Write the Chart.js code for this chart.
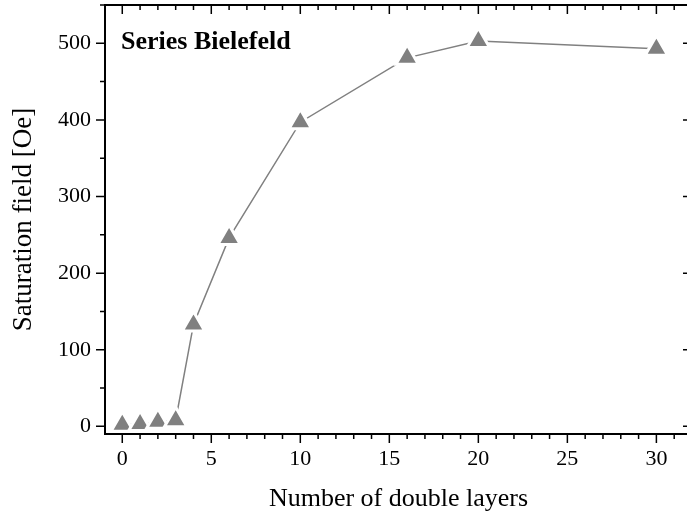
<!DOCTYPE html>
<html>
<head>
<meta charset="utf-8">
<script src="https://cdn.jsdelivr.net/npm/chart.js@4/dist/chart.umd.min.js"></script>
<style>
  html, body { margin: 0; padding: 0; overflow: hidden; background: #fff; }
  #wrap { position: absolute; left: 0; top: 0; width: 700px; height: 516px; }
</style>
</head>
<body>
<div id="wrap"><canvas id="c" width="700" height="516"></canvas></div>
<script>
// Saturation field versus number of double layers
const layers = [0, 1, 2, 3, 4, 6, 10, 16, 20, 30];
const saturationField = [2, 3, 6, 8, 133, 246, 397, 481, 503, 493];

// Labelled tick values on each axis
const xTickValues = [0, 5, 10, 15, 20, 25, 30];
const yTickValues = [0, 100, 200, 300, 400, 500];

const seriesLabel = 'Series Bielefeld';
const xTitle = 'Number of double layers';
const yTitle = 'Saturation field [Oe]';

const serif = "'Liberation Serif', 'Times New Roman', serif";

// Closed frame with major/minor ticks: outward on left/bottom, inward on top/right
const frameTicks = {
  id: 'frameTicks',
  afterDraw(chart) {
    const { ctx, chartArea: a, scales: { x, y } } = chart;
    const major = 9, minor = 5;
    ctx.save();
    ctx.strokeStyle = '#000';
    ctx.lineWidth = 1.5;
    ctx.beginPath();
    for (let v = Math.ceil(x.min); v <= Math.floor(x.max); v++) {
      const px = x.getPixelForValue(v);
      const len = v % 5 === 0 ? major : minor;
      ctx.moveTo(px, a.bottom); ctx.lineTo(px, a.bottom + len);
      ctx.moveTo(px, a.top); ctx.lineTo(px, a.top + len);
    }
    for (let v = 0; v <= y.max; v += 50) {
      const py = y.getPixelForValue(v);
      const len = v % 100 === 0 ? major : minor;
      ctx.moveTo(a.left - len, py); ctx.lineTo(a.left, py);
      ctx.moveTo(a.right - len, py); ctx.lineTo(a.right, py);
    }
    ctx.stroke();
    ctx.lineWidth = 2;
    ctx.strokeRect(a.left, a.top, a.right - a.left, a.bottom - a.top);
    ctx.restore();
  }
};

// Series name written inside the plot
const seriesName = {
  id: 'seriesName',
  afterDraw(chart) {
    const { ctx, chartArea: a } = chart;
    ctx.save();
    ctx.font = 'bold 26px ' + serif;
    ctx.fillStyle = '#000';
    ctx.textAlign = 'left';
    ctx.textBaseline = 'alphabetic';
    ctx.fillText(seriesLabel, a.left + 16, a.top + 44);
    ctx.restore();
  }
};

new Chart(document.getElementById('c'), {
  type: 'scatter',
  data: {
    datasets: [{
      data: layers.map((v, i) => ({ x: v, y: saturationField[i] })),
      showLine: true,
      borderColor: '#808080',
      borderWidth: 1.5,
      pointStyle: 'triangle',
      pointRadius: 13,
      pointHoverRadius: 13,
      pointBackgroundColor: '#808080',
      pointBorderColor: '#ffffff',
      pointBorderWidth: 3
    }]
  },
  options: {
    responsive: false,
    animation: false,
    devicePixelRatio: 1,
    events: [],
    layout: { autoPadding: false, padding: { top: 5, right: 8, left: 0, bottom: 0 } },
    plugins: { legend: { display: false }, tooltip: { enabled: false } },
    scales: {
      x: {
        type: 'linear',
        min: -0.97,
        max: 32,
        grid: { display: false, drawTicks: false },
        border: { display: false },
        afterBuildTicks: s => { s.ticks = xTickValues.map(v => ({ value: v })); },
        ticks: { color: '#000', font: { family: serif, size: 22 }, padding: 12, maxRotation: 0, autoSkip: false },
        title: { display: true, text: xTitle, color: '#000', font: { family: serif, size: 26 }, padding: { top: 0, bottom: 1 } },
        afterFit: s => { s.height = 82; s.paddingLeft = 0; s.paddingRight = 0; }
      },
      y: {
        type: 'linear',
        min: -10,
        max: 550,
        grid: { display: false, drawTicks: false },
        border: { display: false },
        afterBuildTicks: s => { s.ticks = yTickValues.map(v => ({ value: v })); },
        ticks: { color: '#000', font: { family: serif, size: 22 }, padding: 14, autoSkip: false },
        title: { display: true, text: yTitle, color: '#000', font: { family: serif, size: 27 }, padding: { top: 8, bottom: 0 } },
        afterFit: s => { s.width = 105; s.paddingTop = 0; s.paddingBottom = 0; }
      }
    }
  },
  plugins: [frameTicks, seriesName]
});
</script>
</body>
</html>
